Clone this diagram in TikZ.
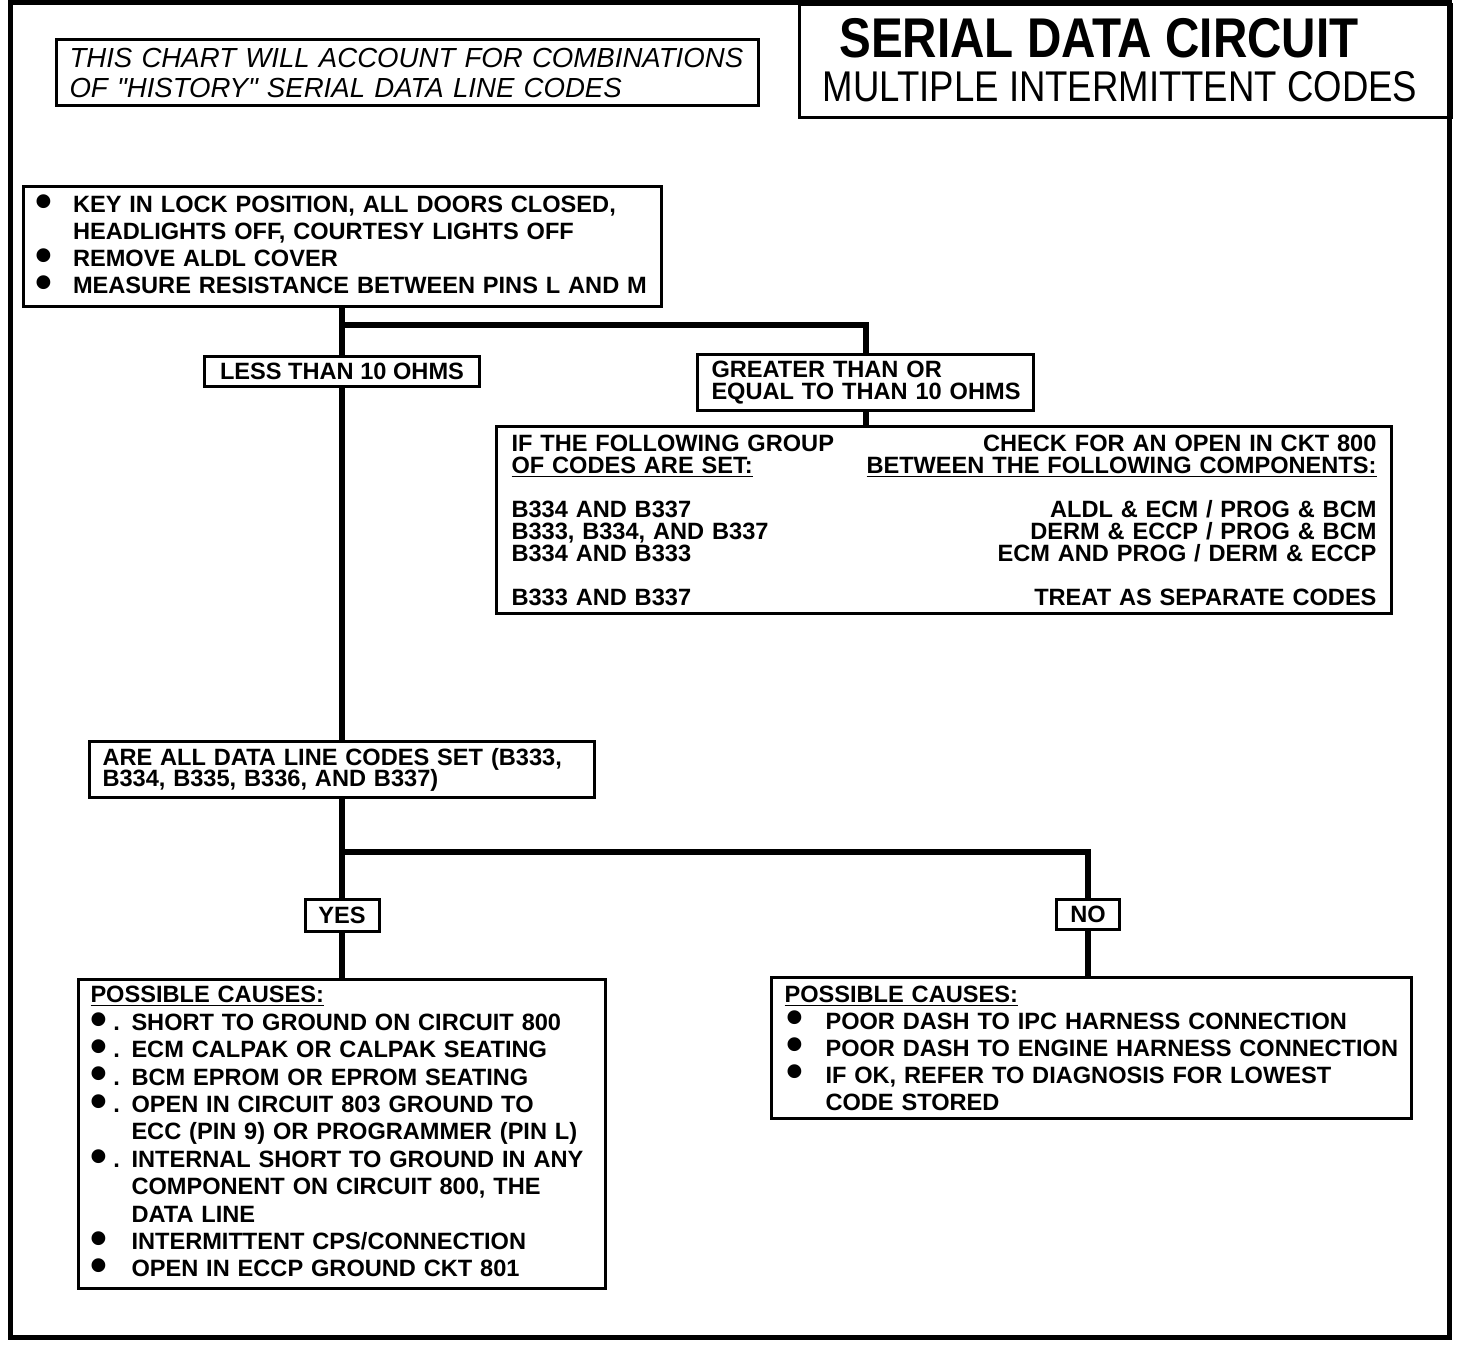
\documentclass[tikz,border=0pt]{standalone}
\usepackage{fontspec}
\setmainfont{Liberation Sans}
\newfontfamily\narrowfont[FakeStretch=0.85]{Liberation Sans}
\newfontfamily\notefont{Liberation Sans}
\newcommand\blt{\raisebox{-2.4pt}{\fontsize{24pt}{0pt}\selectfont\textbullet}}
\newcommand\bitem[3]{\mbox{\makebox[#1][l]{#2}#3}}
\newcommand\crow[2]{\makebox[\linewidth][l]{#1\hfill #2}}

\begin{document}
\begin{tikzpicture}[x=0.5pt,y=-0.5pt,
  box/.style={draw,line width=1.5pt,anchor=north west,inner ysep=0pt,align=left},
  txt/.style={font={\bfseries\fontsize{11.8pt}{#1}\selectfont\lineskiplimit=-10pt}},
  link/.style={line width=3pt}]
  \useasboundingbox (0,0) rectangle (1472,1344);

  % Frame and title block
  \draw[line width=2.5pt] (10,2.5) rectangle (1449,1337);
  \node[box,minimum width=326pt,minimum height=56.5pt] (title) at (798,2.5) {};
  \node[font=\narrowfont\bfseries\fontsize{28pt}{28pt}\selectfont] (titlemain) at (1099,38) {SERIAL DATA CIRCUIT};
  \node[font=\narrowfont\fontsize{21.5pt}{21.5pt}\selectfont] (titlesub) at (1120,87) {MULTIPLE INTERMITTENT CODES};
  \node[box,minimum width=351pt,minimum height=33pt,text width=338pt,inner xsep=6.5pt,
    font=\notefont\itshape\fontsize{13.8pt}{15pt}\selectfont] (note) at (55,38)
    {\mbox{THIS CHART WILL ACCOUNT FOR COMBINATIONS}\\\mbox{OF "HISTORY" SERIAL DATA LINE CODES}};

  % First check
  \node[box,txt=13.5pt,minimum width=319pt,minimum height=60pt,text width=307pt,inner xsep=6pt] (start) at (21.5,185)
    {\bitem{19pt}{\blt}{KEY IN LOCK POSITION, ALL DOORS CLOSED,}\\
     \bitem{19pt}{}{HEADLIGHTS OFF, COURTESY LIGHTS OFF}\\
     \bitem{19pt}{\blt}{REMOVE ALDL COVER}\\
     \bitem{19pt}{\blt}{MEASURE RESISTANCE BETWEEN PINS L AND M}};
  \coordinate (split1) at (340.5,325);
  \node[box,txt=12pt,minimum width=137.5pt,minimum height=15pt] (less) at (203,355) {LESS THAN 10 OHMS};
  \node[box,txt=11pt,minimum width=168pt,minimum height=28pt,text width=154pt,inner xsep=7pt] (greater) at (696,353)
    {\mbox{GREATER THAN OR}\\\mbox{EQUAL TO THAN 10 OHMS}};
  \node[box,txt=11pt,minimum width=447.5pt,minimum height=93.5pt,text width=432.5pt,inner xsep=7.5pt] (codes) at (495,425)
    {\crow{IF THE FOLLOWING GROUP}{CHECK FOR AN OPEN IN CKT 800}\\
     \crow{\underline{OF CODES ARE SET:}}{\underline{BETWEEN THE FOLLOWING COMPONENTS:}}\\
     \mbox{}\\
     \crow{B334 AND B337}{ALDL \& ECM / PROG \& BCM}\\
     \crow{B333, B334, AND B337}{DERM \& ECCP / PROG \& BCM}\\
     \crow{B334 AND B333}{ECM AND PROG / DERM \& ECCP}\\
     \mbox{}\\
     \crow{B333 AND B337}{TREAT AS SEPARATE CODES}};

  % Second check
  \node[box,txt=10.5pt,minimum width=252.5pt,minimum height=28pt,text width=239.5pt,inner xsep=6.5pt] (allset) at (88,740)
    {\mbox{ARE ALL DATA LINE CODES SET (B333,}\\\mbox{B334, B335, B336, AND B337)}};
  \coordinate (split2) at (340.5,852);
  \node[box,txt=12pt,minimum width=37pt,minimum height=16pt] (yes) at (303.5,898) {YES};
  \node[box,txt=12pt,minimum width=31.5pt,minimum height=15pt] (no) at (1055,898) {NO};

  % Possible causes
  \node[box,txt=13.7pt,minimum width=263.5pt,minimum height=154.5pt,text width=251.5pt,inner xsep=6pt] (causesyes) at (77,978)
    {\underline{POSSIBLE CAUSES:}\\
     \bitem{20.5pt}{\blt\hspace{3pt}.}{SHORT TO GROUND ON CIRCUIT 800}\\
     \bitem{20.5pt}{\blt\hspace{3pt}.}{ECM CALPAK OR CALPAK SEATING}\\
     \bitem{20.5pt}{\blt\hspace{3pt}.}{BCM EPROM OR EPROM SEATING}\\
     \bitem{20.5pt}{\blt\hspace{3pt}.}{OPEN IN CIRCUIT 803 GROUND TO}\\
     \bitem{20.5pt}{}{ECC (PIN 9) OR PROGRAMMER (PIN L)}\\
     \bitem{20.5pt}{\blt\hspace{3pt}.}{INTERNAL SHORT TO GROUND IN ANY}\\
     \bitem{20.5pt}{}{COMPONENT ON CIRCUIT 800, THE}\\
     \bitem{20.5pt}{}{DATA LINE}\\
     \bitem{20.5pt}{\blt}{INTERMITTENT CPS/CONNECTION}\\
     \bitem{20.5pt}{\blt}{OPEN IN ECCP GROUND CKT 801}};
  \node[box,txt=13.5pt,minimum width=320pt,minimum height=70.5pt,text width=307pt,inner xsep=6.5pt] (causesno) at (770,976)
    {\underline{POSSIBLE CAUSES:}\\
     \bitem{20.5pt}{\hspace{1pt}\blt}{POOR DASH TO IPC HARNESS CONNECTION}\\
     \bitem{20.5pt}{\hspace{1pt}\blt}{POOR DASH TO ENGINE HARNESS CONNECTION}\\
     \bitem{20.5pt}{\hspace{1pt}\blt}{IF OK, REFER TO DIAGNOSIS FOR LOWEST}\\
     \bitem{20.5pt}{}{CODE STORED}};

  % Connectors
  \draw[link] (start) -- (less);
  \draw[link] (split1) -| (greater);
  \draw[link] (greater) -- (greater |- codes.north);
  \draw[link] (less) -- (allset);
  \draw[link] (allset) -- (yes);
  \draw[link] (split2) -| (no);
  \draw[link] (yes) -- (causesyes);
  \draw[link] (no) -- (no |- causesno.north);
\end{tikzpicture}
\end{document}
